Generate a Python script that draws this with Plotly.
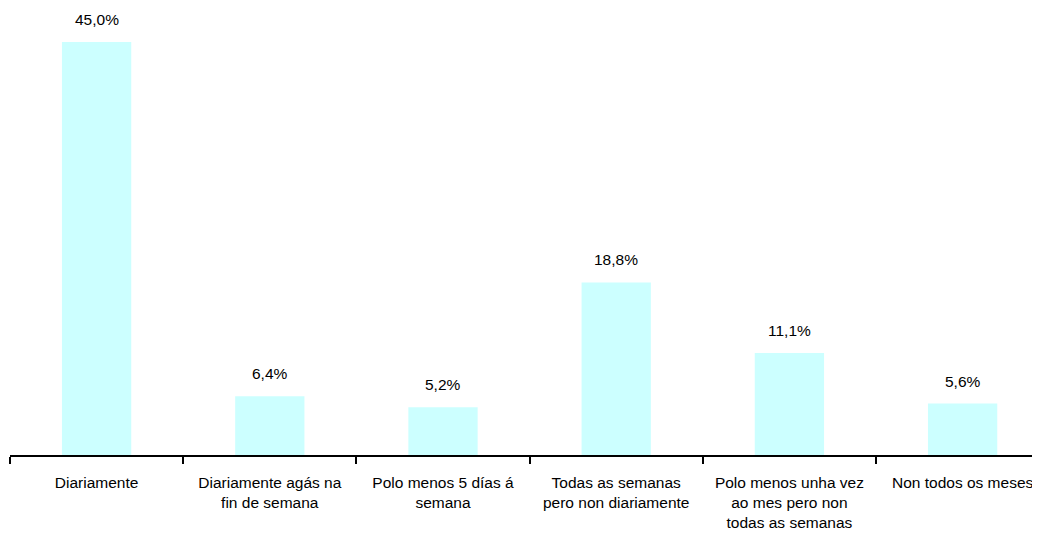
import plotly.graph_objects as go

categories = [
    "Diariamente",
    "Diariamente agás na<br>fin de semana",
    "Polo menos 5 días á<br>semana",
    "Todas as semanas<br>pero non diariamente",
    "Polo menos unha vez<br>ao mes pero non<br>todas as semanas",
    "Non todos os meses",
]
values = [45.0, 6.4, 5.2, 18.8, 11.1, 5.6]
value_labels = [f"{v:.1f}".replace(".", ",") + "%" for v in values]

FONT = "Liberation Sans, Arial, sans-serif"

fig = go.Figure()
fig.add_trace(go.Bar(
    x=categories, y=values,
    marker=dict(color="#CCFFFF", line=dict(width=0)),
    width=0.4,
    hoverinfo="skip",
))

for c, v, t in zip(categories, values, value_labels):
    fig.add_annotation(x=c, y=v, text=t, showarrow=False,
                       yanchor="bottom", yshift=12,
                       font=dict(family=FONT, size=15.5, color="#000000"))

fig.update_layout(
    width=1040, height=536,
    margin=dict(l=2, r=0, t=0, b=89),
    paper_bgcolor="white", plot_bgcolor="white",
    showlegend=False,
    bargap=0.6,
    font=dict(family=FONT, size=15.5, color="#000000"),
)
fig.update_xaxes(
    type="category",
    range=[-0.5, 5.493],
    showline=True, linecolor="#000000", linewidth=2,
    ticks="outside", tickson="boundaries", ticklen=7, tickwidth=1.5,
    tickcolor="#000000",
    ticklabelstandoff=12,
    tickfont=dict(family=FONT, size=15.5, color="#000000"),
    showgrid=False, zeroline=False,
    automargin=False,
)
fig.update_yaxes(
    range=[0, 48.7], visible=False, showgrid=False, zeroline=False,
)

fig.write_html("out.html")
